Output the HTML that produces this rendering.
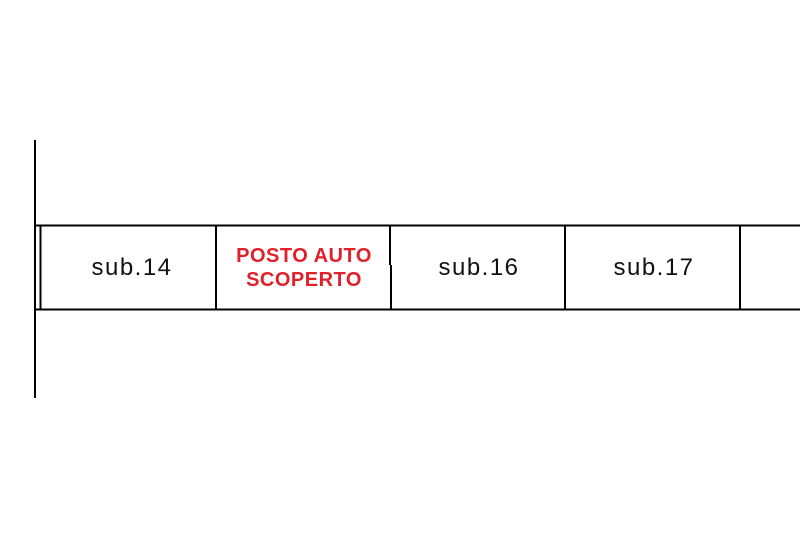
<!DOCTYPE html>
<html><head><meta charset="utf-8"><style>
html,body{margin:0;padding:0;background:#fff;width:800px;height:533px;overflow:hidden}
</style></head><body>
<svg width="800" height="533" viewBox="0 0 800 533" xmlns="http://www.w3.org/2000/svg">
<g stroke="#000" stroke-width="2" fill="none">
<line x1="35" y1="140" x2="35" y2="398"/>
<line x1="40.5" y1="225" x2="40.5" y2="309"/>
<line x1="34" y1="225.5" x2="800" y2="225.5"/>
<line x1="34" y1="309.5" x2="800" y2="309.5"/>
<line x1="216" y1="225" x2="216" y2="310"/>
<line x1="390" y1="225" x2="390" y2="265"/>
<line x1="391" y1="265" x2="391" y2="310"/>
<line x1="565" y1="225" x2="565" y2="310"/>
<line x1="740" y1="225" x2="740" y2="310"/>
</g>
<g font-family="Liberation Sans, sans-serif" font-size="24" letter-spacing="1.5" fill="#111" text-anchor="middle">
<text x="132" y="275">sub.14</text>
<text x="479" y="275">sub.16</text>
<text x="654" y="275">sub.17</text>
</g>
<g font-family="Liberation Sans, sans-serif" font-size="20" font-weight="bold" letter-spacing="0.5" fill="#e0202a" text-anchor="middle">
<text x="304" y="262">POSTO AUTO</text>
<text x="304" y="286">SCOPERTO</text>
</g>
</svg>
</body></html>
